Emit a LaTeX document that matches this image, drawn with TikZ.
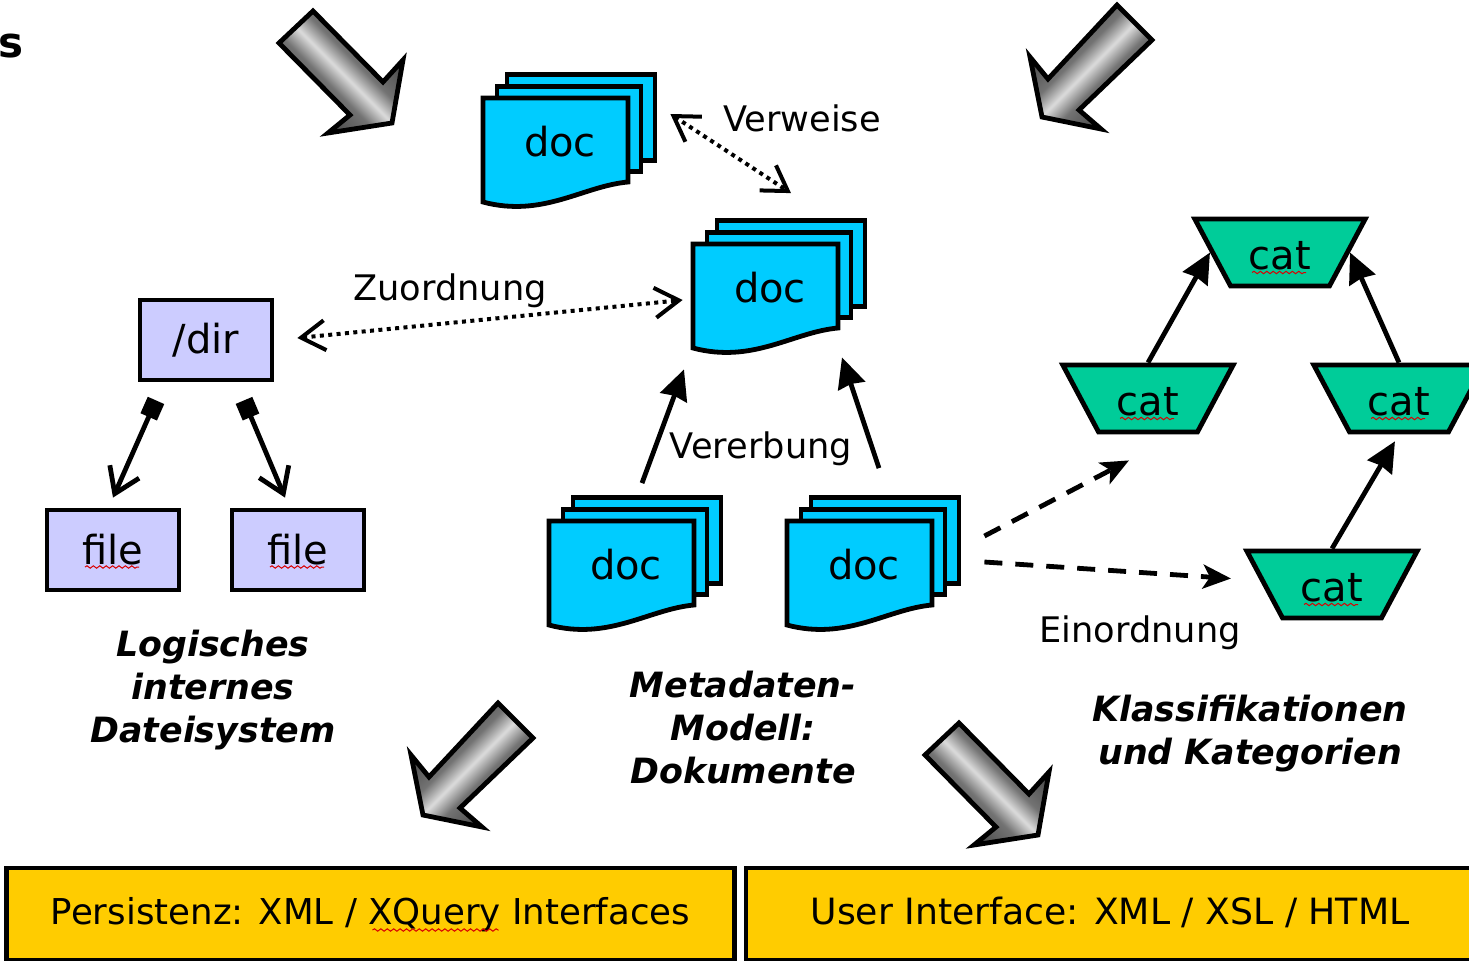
\documentclass[tikz,border=0pt]{standalone}
\usepackage{fontspec}
\setmainfont{DejaVu Sans}
\usetikzlibrary{calc,arrows.meta,shapes.geometric,decorations.pathmorphing}
\definecolor{docblue}{HTML}{00CCFF}
\definecolor{catgreen}{HTML}{00CC99}
\definecolor{dirblue}{HTML}{CCCCFF}
\definecolor{boxyellow}{HTML}{FFCC00}
\pgfdeclareverticalshading{arrowgrey}{100bp}{color(0bp)=(black!75); color(30bp)=(black!72); color(43bp)=(black!55); color(50bp)=(black!14); color(57bp)=(black!55); color(70bp)=(black!72); color(100bp)=(black!75)}

\begin{document}
\begin{tikzpicture}[x=.5pt, y=-.5pt, line width=2.4pt,
          sheet/.style = {draw, fill=docblue, inner sep=0pt},
          doclabel/.style = {inner sep=0pt, minimum width=72pt, minimum height=41pt, font=\fontsize{20}{24}\selectfont},
          catbox/.style = {draw, fill=catgreen, trapezium, shape border rotate=180, trapezium stretches=true,
                           trapezium left angle=58, trapezium right angle=58, minimum width=85.5pt, minimum height=33.5pt,
                           inner sep=0pt, text height=17.7pt, font=\fontsize{20}{24}\selectfont},
          dirbox/.style = {draw, fill=dirblue, inner sep=0pt, minimum width=66pt, minimum height=40pt, font=\fontsize{20}{24}\selectfont},
          layerbox/.style = {draw, fill=boxyellow, inner sep=0pt, minimum width=364pt, minimum height=46pt,
                             text height=14pt, text depth=4pt, font=\fontsize{17.8}{20}\selectfont},
          lbl/.style = {inner sep=0pt, font=\fontsize{17.6}{20}\selectfont},
          title/.style = {inner sep=0pt, align=center, font=\fontsize{17.4}{21.5}\selectfont\bfseries\itshape},
          bigarrow/.style = {draw, line join=miter, shading=arrowgrey},
          spell/.style = {draw=red!85!black, line width=.5pt, decorate, decoration={snake, amplitude=.6pt, segment length=3.2pt}},
          solidarrow/.style = {-{Stealth[length=15pt, width=14pt, inset=1pt]}},
          dasharrow/.style = {dash pattern=on 9pt off 6.5pt, -{Stealth[length=14pt, width=12pt, inset=3.5pt]}},
          refarrow/.style = {dash pattern=on 2pt off 2.2pt, line width=2pt, {Straight Barb[length=12pt, width=15pt, line width=2pt]}-{Straight Barb[length=12pt, width=15pt, line width=2pt]}},
          filearrow/.style = {{Square[length=9pt, width=9pt]}-{Straight Barb[length=12pt, width=16pt]}}]
        \useasboundingbox (0,0) rectangle (1469,960);
        % gross arrows
        \foreach \x/\y in {0/0, 646/712}
                 {
                   \path[bigarrow, shading angle=-45, shift={(\x,\y)}] (313,11) -- (383,82) -- (403,60) -- (392,123) -- (328,133) -- (350,115) -- (279,43) -- cycle;
                 }
        \foreach \x/\y in {0/0, 619/-698}
                 {
                   \path[bigarrow, shading angle=45, shift={(\x,\y)}] (498,703) -- (533,738) -- (460,808) -- (482,827) -- (423,815) -- (411,755) -- (429,777) -- cycle;
                 }
        % documents
        \foreach \n/\x/\y in {da/483/98, db/693/244, dc/549/521, dd/787/521}
                 {
                   \node[sheet, minimum width=74pt, minimum height=43pt] (\n-back) at (\x+98,\y+19.5) {};
                   \node[sheet, minimum width=72pt, minimum height=42.5pt] (\n-mid) at (\x+86,\y+31) {};
                   \draw[fill=docblue] (\x,\y) -- (\x+145,\y) -- (\x+145,\y+84)
                       .. controls (\x+100,\y+88) and (\x+60,\y+120) .. (\x,\y+104) -- cycle;
                   \node[doclabel] (\n) at (\x+77,\y+44) {doc};
                 }
        % categories
        \node[catbox] (cat1) at (1280,252.5) {cat};
        \node[catbox] (cat2) at (1148,398.5) {cat};
        \node[catbox] (cat3) at (1399,398.5) {cat};
        \node[catbox] (cat4) at (1332,584.5) {cat};
        % file system
        \node[dirbox] (dir) at (206,340) {/dir};
        \node[dirbox] (file1) at (113,550) {file};
        \node[dirbox] (file2) at (298,550) {file};
        % layers
        \node[layerbox] (persist) at (370.5,914) {Persistenz: XML / XQuery Interfaces};
        \node[layerbox, font=\fontsize{18.1}{20}\selectfont] (ui) at (1110,914) {User Interface: XML / XSL / HTML};
        % spell checker
        \foreach \n in {cat1, cat2, cat3, cat4}
                 {
                   \draw[spell] ([shift={(-28,20)}]\n.center) -- ([shift={(26,20)}]\n.center);
                 }
        \foreach \n in {file1, file2}
                 {
                   \draw[spell] ([shift={(-28,17)}]\n.center) -- ([shift={(26,17)}]\n.center);
                 }
        \draw[spell] ([shift={(2,16)}]persist.center) -- ([shift={(128,16)}]persist.center);
        % connectors
        \draw[refarrow] ([shift={(13,-3.5)}]da-back.east) -- ([shift={(0,-25)}]db-back.north);
        \draw[refarrow] ([shift={(23,-2)}]dir.east) -- ([shift={(-13,12)}]db.west);
        \draw[solidarrow] ([shift={(-5,-12)}]dc-back.north) -- ([shift={(-86,38)}]db.south);
        \draw[solidarrow] ([shift={(-6,-27)}]dd-back.north) -- ([shift={(72,26)}]db.south);
        \draw[filearrow] ([shift={(-50,18)}]dir.south) -- ([shift={(0,-10)}]file1.north);
        \draw[filearrow] ([shift={(38,18)}]dir.south) -- ([shift={(-13,-10)}]file2.north);
        \draw[solidarrow] (cat2.north) -- (cat1.west);
        \draw[solidarrow] (cat3.north) -- (cat1.east);
        \draw[solidarrow, shorten >=4pt] (cat4.north) -- (cat3.south);
        \draw[dasharrow] ([shift={(23,-4.5)}]dd-back.east) -- ([shift={(-19,26)}]cat2.south);
        \draw[dasharrow] ([shift={(23,21.5)}]dd-back.east) -- ([shift={(-31,-6)}]cat4.west);
        % labels
        \node[lbl] (verweise) at (802,118) {Verweise};
        \node[lbl] (zuordnung) at (450,291) {Zuordnung};
        \node[lbl] (vererbung) at (761,449) {Vererbung};
        \node[lbl] (einordnung) at (1140,633) {Einordnung};
        \node[title] (tfs) at (213,690) {Logisches\\internes\\Dateisystem};
        \node[title] (tmeta) at (743,728) {Metadaten-\\Modell:\\Dokumente};
        \node[title] (tklass) at (1250,734) {Klassifikationen\\und Kategorien};
        \node[inner sep=0pt, font=\fontsize{21}{24}\selectfont\bfseries] (frag) at (11,46) {s};
      \end{tikzpicture}
\end{document}
